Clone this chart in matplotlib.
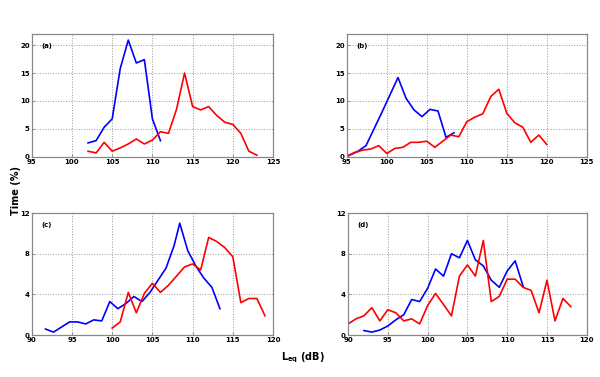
import matplotlib
matplotlib.use("Agg")
import matplotlib.pyplot as plt

# ─── Data ─────────────────────────────────────────────────────────────────────

# (a)
a_blue_x = [102, 103, 104, 105, 106, 107, 108, 109, 110, 111]
a_blue_y = [2.5, 2.9, 5.3, 6.8, 15.8, 20.9, 16.8, 17.4, 6.8, 2.9]
a_red_x = list(range(102, 124))
a_red_y = [1.0, 0.7, 2.6, 1.0, 1.6, 2.3, 3.2, 2.3, 3.0, 4.5, 4.2,
           8.5, 15.0, 9.0, 8.4, 9.0, 7.4, 6.2, 5.8, 4.2, 1.0, 0.3]

# (b)
b_blue_x = [95.2, 96.4, 97.4, 98.4, 99.4, 100.4, 101.4, 102.4, 103.4,
            104.4, 105.4, 106.4, 107.4, 108.4]
b_blue_y = [0.2, 1.0, 2.0, 5.0, 8.0, 11.1, 14.2, 10.5, 8.4, 7.2, 8.5, 8.2, 3.5, 4.3]
b_red_x = list(range(95, 121))
b_red_y = [0.1, 0.8, 1.2, 1.4, 2.0, 0.6, 1.5, 1.7, 2.6, 2.6, 2.8, 1.7, 2.8,
           3.9, 3.6, 6.3, 7.1, 7.7, 10.8, 12.1, 7.8, 6.1, 5.3, 2.6, 3.9, 2.2]

# (c)
c_blue_x = [91.7, 92.7, 93.7, 94.7, 95.7, 96.7, 97.7, 98.7, 99.7, 100.7,
            101.7, 102.7, 103.7, 104.7, 105.7, 106.7, 107.7, 108.4, 109.4,
            110.4, 111.4, 112.4, 113.4]
c_blue_y = [0.6, 0.3, 0.8, 1.3, 1.3, 1.1, 1.5, 1.4, 3.3, 2.6, 3.1, 3.8, 3.3,
            4.2, 5.4, 6.6, 8.8, 11.0, 8.3, 6.8, 5.6, 4.7, 2.6]
c_red_x = list(range(100, 120))
c_red_y = [0.7, 1.3, 4.2, 2.2, 4.1, 5.1, 4.2, 4.9, 5.8, 6.7, 7.0, 6.4, 9.6,
           9.2, 8.6, 7.7, 3.2, 3.6, 3.6, 1.9]

# (d)
d_blue_x = list(range(92, 113))
d_blue_y = [0.45, 0.3, 0.5, 0.9, 1.5, 2.0, 3.5, 3.3, 4.6, 6.5, 5.8, 8.0, 7.6,
            9.3, 7.4, 6.8, 5.4, 4.7, 6.3, 7.3, 4.8]
d_red_x = list(range(90, 119))
d_red_y = [1.1, 1.6, 1.9, 2.7, 1.4, 2.5, 2.2, 1.4, 1.6, 1.1, 2.9, 4.1, 3.0,
           1.9, 5.8, 6.9, 5.8, 9.3, 3.3, 3.8, 5.5, 5.5, 4.7, 4.4, 2.2, 5.4,
           1.4, 3.6, 2.8]

panel_labels = ["(a)", "(b)", "(c)", "(d)"]

# ─── Plot ─────────────────────────────────────────────────────────────────────

fig = plt.figure(figsize=(6, 3.77), dpi=100)

positions = [
    [0.053, 0.584, 0.402, 0.326],
    [0.578, 0.584, 0.400, 0.326],
    [0.053, 0.111, 0.402, 0.324],
    [0.580, 0.111, 0.398, 0.324],
]
series = [
    (a_blue_x, a_blue_y, a_red_x, a_red_y),
    (b_blue_x, b_blue_y, b_red_x, b_red_y),
    (c_blue_x, c_blue_y, c_red_x, c_red_y),
    (d_blue_x, d_blue_y, d_red_x, d_red_y),
]
xlims = [(95, 125), (95, 125), (90, 120), (90, 120)]
ylims = [(0, 22), (0, 22), (0, 12), (0, 12)]
yticks = [[0, 5, 10, 15, 20], [0, 5, 10, 15, 20], [0, 4, 8, 12], [0, 4, 8, 12]]

for pos, (bx, by, rx, ry), xl, yl, yt, lab in zip(positions, series, xlims,
                                                  ylims, yticks, panel_labels):
    ax = fig.add_axes(pos)
    ax.plot(bx, by, color="#0000ff", lw=1.2)
    ax.plot(rx, ry, color="#ff0000", lw=1.2)
    ax.set_xlim(*xl)
    ax.set_ylim(*yl)
    ax.set_xticks(range(xl[0], xl[1] + 1, 5))
    ax.set_yticks(yt)
    ax.grid(True, linestyle=":", color="#999999", lw=0.7)
    for s in ax.spines.values():
        s.set_color("#888888")
        s.set_linewidth(0.9)
    ax.tick_params(direction="in", length=2, width=0.6, color="#888888",
                   labelsize=5, pad=1.5)
    for t in ax.get_xticklabels() + ax.get_yticklabels():
        t.set_fontweight("bold")
    ax.text(0.04, 0.93, lab, transform=ax.transAxes, fontsize=5,
            fontweight="bold", va="top", ha="left")

fig.text(0.027, 0.495, "Time (%)", rotation=90, fontsize=7, fontweight="bold",
         ha="center", va="center")
fig.text(0.505, 0.052, r"$\mathbf{L_{eq}}$ (dB)", fontsize=7, fontweight="bold",
         ha="center", va="center")

plt.savefig("out.png", dpi=100)
